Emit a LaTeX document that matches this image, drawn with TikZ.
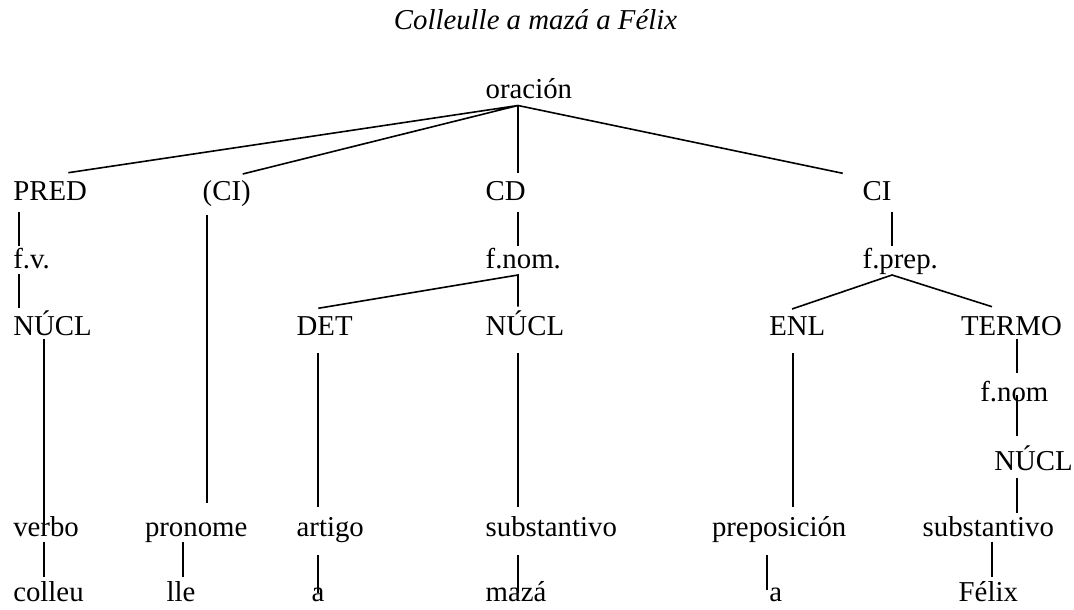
\documentclass[tikz,border=0pt]{standalone}
\usepackage{fontspec}
\setmainfont{Liberation Serif}
\tikzset{
  lbl/.style={anchor=base west, inner sep=0pt, outer sep=0pt, font=\fontsize{28.8}{34}\selectfont},
  ttl/.style={anchor=base, inner sep=0pt, outer sep=0pt, font=\fontsize{28.8}{34}\selectfont\itshape},
  edge/.style={line width=1.6pt, line cap=butt}
}
\begin{document}
\begin{tikzpicture}[x=1pt, y=-1pt]
\useasboundingbox (0,0) rectangle (1074,610);
% texts
\node[ttl] (title) at (535.5,30) {Colleulle a mazá a Félix};
\node[lbl] (oracion) at (485.7,98.3) {oración};
\node[lbl] (pred) at (13.3,200) {PRED};
\node[lbl] (cip) at (202.7,200) {(CI)};
\node[lbl] (cd) at (485.7,200) {CD};
\node[lbl] (ci) at (862.7,200) {CI};
\node[lbl] (fv) at (13.3,268.3) {f.v.};
\node[lbl] (fnomA) at (485.7,268.3) {f.nom.};
\node[lbl] (fprep) at (862.7,268.3) {f.prep.};
\node[lbl] (nuclA) at (13.3,335) {NÚCL};
\node[lbl] (det) at (296.7,335) {DET};
\node[lbl] (nuclB) at (485.7,335) {NÚCL};
\node[lbl] (enl) at (769.3,335) {ENL};
\node[lbl] (termo) at (961,335) {TERMO};
\node[lbl] (fnomB) at (980.3,401.7) {f.nom};
\node[lbl] (nuclC) at (994.3,470) {NÚCL};
\node[lbl] (verbo) at (13.3,536.7) {verbo};
\node[lbl] (pronome) at (145,536.7) {pronome};
\node[lbl] (artigo) at (296.7,536.7) {artigo};
\node[lbl] (substA) at (485.7,536.7) {substantivo};
\node[lbl] (prepos) at (712,536.7) {preposición};
\node[lbl] (substB) at (922.7,536.7) {substantivo};
\node[lbl] (colleu) at (13.3,601.7) {colleu};
\node[lbl] (lle) at (166.7,601.7) {lle};
\node[lbl] (aA) at (311.7,601.7) {a};
\node[lbl] (maza) at (485.7,601.7) {mazá};
\node[lbl] (aB) at (769.3,601.7) {a};
\node[lbl] (felix) at (958.7,601.7) {Félix};
% connector end points
\coordinate (apex) at (518,105.5);
\coordinate (predT) at (68.3,172.7);
\coordinate (cipT) at (242.7,174);
\coordinate (cdT) at (518,173.3);
\coordinate (ciT) at (842.7,173.3);
\coordinate (predB) at (19,211.7);
\coordinate (fvT) at (19,246);
\coordinate (fvB) at (19,274.3);
\coordinate (nuclAT) at (19,308.3);
\coordinate (nuclAB) at (44,339.3);
\coordinate (verboT) at (44,535);
\coordinate (verboB) at (44,541.7);
\coordinate (colleuT) at (44,576.7);
\coordinate (cipB) at (207,215);
\coordinate (pronomeT) at (207,503.3);
\coordinate (pronomeB) at (183,541.7);
\coordinate (lleT) at (183,576.7);
\coordinate (cdB) at (518,211.7);
\coordinate (fnomAT) at (518,246);
\coordinate (fnomAB) at (518,275);
\coordinate (detT) at (318.3,308.3);
\coordinate (nuclBT) at (518,306.7);
\coordinate (detB) at (318,353.3);
\coordinate (artigoT) at (318,506.7);
\coordinate (artigoB) at (318,555);
\coordinate (aAT) at (318,593.3);
\coordinate (nuclBB) at (518,353.3);
\coordinate (substAT) at (518,506.7);
\coordinate (substAB) at (518,555);
\coordinate (mazaT) at (518,593.3);
\coordinate (ciB) at (892,211.7);
\coordinate (fprepT) at (892,246);
\coordinate (fprepB) at (892,275);
\coordinate (enlT) at (792,309);
\coordinate (termoT) at (992,306.7);
\coordinate (enlB) at (793,353.3);
\coordinate (preposT) at (793,506.7);
\coordinate (preposB) at (767,555);
\coordinate (aBT) at (767,590);
\coordinate (termoB) at (1017,339.3);
\coordinate (fnomBT) at (1017,373.3);
\coordinate (fnomBB) at (1017,395);
\coordinate (nuclCT) at (1017,436);
\coordinate (nuclCB) at (1017,478.3);
\coordinate (substBT) at (1017,512.7);
\coordinate (substBB) at (992,541.7);
\coordinate (felixT) at (992,576.7);
% connectors
\draw[edge] (predT) -- (apex) -- (cipT);
\draw[edge] (apex) -- (cdT);
\draw[edge] (apex) -- (ciT);
\draw[edge] (predB) -- (fvT);
\draw[edge] (fvB) -- (nuclAT);
\draw[edge] (nuclAB) -- (verboT);
\draw[edge] (verboB) -- (colleuT);
\draw[edge] (cipB) -- (pronomeT);
\draw[edge] (pronomeB) -- (lleT);
\draw[edge] (cdB) -- (fnomAT);
\draw[edge] (detT) -- (fnomAB) -- (nuclBT);
\draw[edge] (detB) -- (artigoT);
\draw[edge] (artigoB) -- (aAT);
\draw[edge] (nuclBB) -- (substAT);
\draw[edge] (substAB) -- (mazaT);
\draw[edge] (ciB) -- (fprepT);
\draw[edge] (enlT) -- (fprepB) -- (termoT);
\draw[edge] (enlB) -- (preposT);
\draw[edge] (preposB) -- (aBT);
\draw[edge] (termoB) -- (fnomBT);
\draw[edge] (fnomBB) -- (nuclCT);
\draw[edge] (nuclCB) -- (substBT);
\draw[edge] (substBB) -- (felixT);
\end{tikzpicture}
\end{document}
